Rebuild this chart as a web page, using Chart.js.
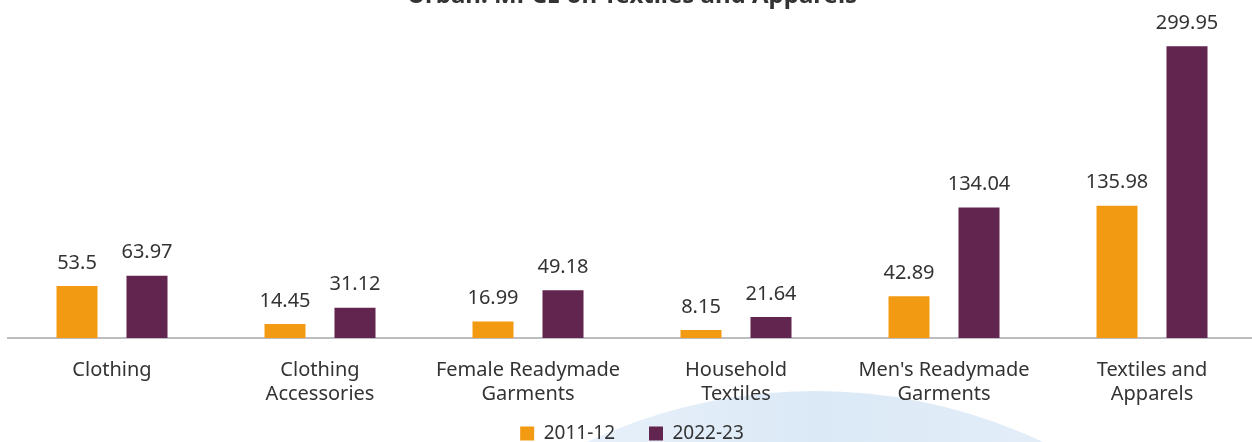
<!DOCTYPE html>
<html>
<head>
<meta charset="utf-8">
<script src="https://cdn.jsdelivr.net/npm/chart.js@4.4.1/dist/chart.umd.min.js"></script>
<style>
  html, body { margin: 0; padding: 0; background: #fff; overflow: hidden; }
  #wrap { position: absolute; left: 0; top: -26px; width: 1260px; height: 468px; }
</style>
</head>
<body>
<div id="wrap"><canvas id="mpceChart" width="1260" height="468"></canvas></div>
<script>
// categories and values (Rs per month, urban)
const categories = [
    ['Clothing'],
    ['Clothing', 'Accessories'],
    ['Female Readymade', 'Garments'],
    ['Household', 'Textiles'],
    ["Men's Readymade", 'Garments'],
    ['Textiles and', 'Apparels']
];
const years = ['2011-12', '2022-23'];
const values2011 = [53.5, 14.45, 16.99, 8.15, 42.89, 135.98];
const values2022 = [63.97, 31.12, 49.18, 21.64, 134.04, 299.95];

const textColor = '#333333';
const fontFamily = "'Noto Sans', 'Open Sans', sans-serif";

// faint round shape behind the lower part of the chart
const backdrop = {
    id: 'backdrop',
    beforeDraw(chart) {
        const ctx = chart.ctx;
        const g = ctx.createLinearGradient(590, 0, 1040, 0);
        g.addColorStop(0, '#e7f0fa');
        g.addColorStop(0.5, '#dbe9f6');
        g.addColorStop(1, '#e2edf8');
        ctx.save();
        ctx.fillStyle = g;
        ctx.beginPath();
        ctx.arc(815, 26 + 391 + 535, 535, 0, Math.PI * 2);
        ctx.fill();
        ctx.restore();
    }
};

// legend needs wide gaps between items but sits close under the axis
const legendLift = {
    id: 'legendLift',
    afterLayout(chart) {
        chart.legend.top -= 28;
        chart.legend.bottom -= 28;
    }
};

// value printed above every bar
const barValues = {
    id: 'barValues',
    afterDatasetsDraw(chart) {
        const ctx = chart.ctx;
        ctx.save();
        ctx.font = '20px ' + fontFamily;
        ctx.fillStyle = textColor;
        ctx.textAlign = 'center';
        ctx.textBaseline = 'bottom';
        chart.data.datasets.forEach((ds, i) => {
            chart.getDatasetMeta(i).data.forEach((bar, j) => {
                ctx.fillText(String(ds.data[j]), bar.x, bar.y - 13);
            });
        });
        ctx.restore();
    }
};

const ctx = document.getElementById('mpceChart').getContext('2d');
const mpceChart = new Chart(ctx, {
    type: 'bar',
    data: {
        labels: categories,
        datasets: [{
            label: years[0],
            data: values2011,
            backgroundColor: '#f39a13'
        }, {
            label: years[1],
            data: values2022,
            backgroundColor: '#62254f'
        }]
    },
    options: {
        responsive: false,
        animation: false,
        layout: { padding: { left: 8, right: 4, top: 0, bottom: -39 } },
        datasets: {
            bar: { categoryPercentage: 0.673, barPercentage: 0.586 }
        },
        plugins: {
            title: {
                display: true,
                text: 'Urban: MPCE on Textiles and Apparels',
                color: textColor,
                font: { family: fontFamily, size: 24, weight: 'bold' },
                padding: { top: 8, bottom: 12 }
            },
            legend: {
                position: 'bottom',
                labels: {
                    color: textColor,
                    font: { family: fontFamily, size: 19 },
                    boxWidth: 14,
                    boxHeight: 14,
                    padding: 34
                }
            },
            tooltip: { enabled: false }
        },
        scales: {
            x: {
                grid: { display: false },
                border: { display: true, color: '#bdbdbd', width: 2 },
                ticks: {
                    color: textColor,
                    font: { family: fontFamily, size: 20, lineHeight: 1.2 },
                    padding: 12,
                    maxRotation: 0,
                    autoSkip: false
                }
            },
            y: {
                display: false,
                min: 0,
                max: 324
            }
        }
    },
    plugins: [backdrop, legendLift, barValues]
});
</script>
</body>
</html>
